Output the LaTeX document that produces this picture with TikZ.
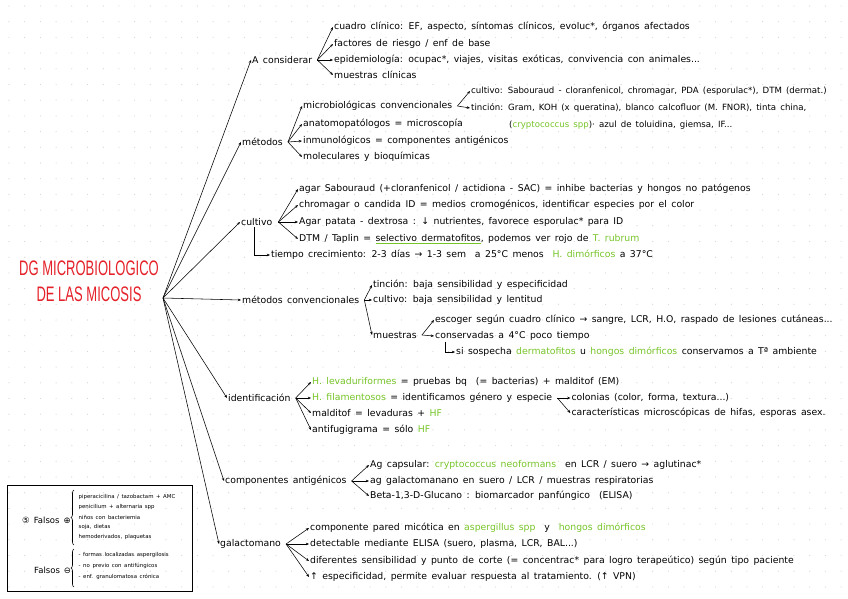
\documentclass[tikz,border=0pt]{standalone}
\usepackage{fontspec}
\setmainfont[WordSpace=1.5]{DejaVu Sans}
\newfontfamily\titlefont[FakeStretch=0.62]{Liberation Sans}
\usepackage{xcolor}
\usepackage{tikz}
\usetikzlibrary{arrows.meta,positioning,calc,decorations.pathreplacing}
\definecolor{titlered}{RGB}{228,32,40}
\definecolor{hgreen}{RGB}{118,196,40}
\definecolor{dotgray}{RGB}{212,212,212}
\newcommand{\gr}[1]{\textcolor{hgreen}{#1}}
\newcommand{\gul}[1]{{\color{hgreen}\underline{\textcolor{black}{#1}}}}

\begin{document}
\begin{tikzpicture}[
  x=1pt, y=-1pt,
  txt/.style={anchor=west, inner sep=1pt, font=\fontsize{9.3}{11}\selectfont},
  stxt/.style={txt, font=\fontsize{8.6}{10}\selectfont},
  tiny/.style={anchor=west, inner sep=0.5pt, font=\fontsize{5.4}{6}\selectfont},
  arrow/.style={-{Stealth[length=3.2pt,width=2.6pt]}, line width=0.55pt},
  brace/.style={decorate, decoration={brace, amplitude=3pt}, line width=0.6pt}
]
\useasboundingbox (0,0) rectangle (848,599);
% dotted paper
\foreach \i in {0,...,53}
  \foreach \j in {0,...,37}
    \fill[dotgray] (9+\i*15.7, 6+\j*15.7) circle (0.6);

% root
\node[align=center, text=titlered, font=\titlefont\fontsize{21}{26}\selectfont] (title) at (89,281) {DG MICROBIOLOGICO\\DE LAS MICOSIS};
\coordinate (hub) at (163,298);

% first level
\node[txt] (cons) at (251,60) {A considerar};
\node[txt] (met) at (241,142) {métodos};
\node[txt] (cult) at (240,222) {cultivo};
\node[txt] (mconv) at (241,300) {métodos convencionales};
\node[txt] (ident) at (227,398) {identificación};
\node[txt] (comp) at (224,481) {componentes antigénicos};
\node[txt] (galac) at (219,544) {galactomano};
\foreach \n in {cons,met,cult,mconv,ident,comp,galac}
  \draw[arrow] (hub) -- (\n.west);

% A considerar
\coordinate (fc) at ([xshift=4pt]cons.east);
\node[txt] (c1) at (333,27) {cuadro clínico: EF, aspecto, síntomas clínicos, evoluc*, órganos afectados};
\node[txt] (c2) at (333,44) {factores de riesgo / enf de base};
\node[txt] (c3) at (333,60) {epidemiología: ocupac*, viajes, visitas exóticas, convivencia con animales...};
\node[txt] (c4) at (333,75) {muestras clínicas};
\foreach \n in {c1,c2,c3,c4}
  \draw[arrow] (fc) -- (\n.west);

% métodos
\coordinate (fm) at ([xshift=4pt]met.east);
\node[txt] (m1) at (302,106) {microbiológicas convencionales};
\node[txt] (m2) at (302,124) {anatomopatólogos = microscopía};
\node[txt] (m3) at (302,141) {inmunológicos = componentes antigénicos};
\node[txt] (m4) at (302,157) {moleculares y bioquímicas};
\foreach \n in {m1,m2,m3,m4}
  \draw[arrow] (fm) -- (\n.west);
\coordinate (fmb) at ([xshift=4pt]m1.east);
\node[stxt] (mb1) at (470,91) {cultivo: Sabouraud - cloranfenicol, chromagar, PDA (esporulac*), DTM (dermat.)};
\node[stxt] (mb2) at (470,108) {tinción: Gram, KOH (x queratina), blanco calcofluor (M. FNOR), tinta china,};
\node[stxt] (mb3) at (508,125) {(\gr{cryptococcus spp})· azul de toluidina, giemsa, IF...};
\foreach \n in {mb1,mb2}
  \draw[arrow] (fmb) -- (\n.west);

% cultivo
\coordinate (fcu) at ([xshift=5pt]cult.east);
\node[txt] (cu1) at (298,189) {agar Sabouraud (+cloranfenicol / actidiona - SAC) = inhibe bacterias y hongos no patógenos};
\node[txt] (cu2) at (298,205) {chromagar o candida ID = medios cromogénicos, identificar especies por el color};
\node[txt] (cu3) at (298,222) {Agar patata - dextrosa : ↓ nutrientes, favorece esporulac* para ID};
\node[txt] (cu4) at (298,239) {DTM / Taplin = \gul{selectivo dermatofitos}, podemos ver rojo de \gr{T. rubrum}};
\foreach \n in {cu1,cu2,cu3,cu4}
  \draw[arrow] (fcu) -- (\n.west);
\node[txt] (tcre) at (270,255) {tiempo crecimiento: 2-3 días → 1-3 sem \ a 25°C menos \ \gr{H. dimórficos} a 37°C};
\draw[arrow] ([xshift=-2pt]cult.south) |- (tcre.west);

% métodos convencionales
\coordinate (fmc) at ([xshift=4pt]mconv.east);
\node[txt] (mc1) at (372,285) {tinción: baja sensibilidad y especificidad};
\node[txt] (mc2) at (372,300) {cultivo: baja sensibilidad y lentitud};
\node[txt] (mues) at (372,335) {muestras};
\foreach \n in {mc1,mc2,mues}
  \draw[arrow] (fmc) -- (\n.west);
\coordinate (fmu) at ([xshift=4pt]mues.east);
\node[txt] (mu1) at (434,320) {escoger según cuadro clínico → sangre, LCR, H.O, raspado de lesiones cutáneas...};
\node[txt] (mu2) at (434,336) {conservadas a 4°C poco tiempo};
\foreach \n in {mu1,mu2}
  \draw[arrow] (fmu) -- (\n.west);
\node[txt] (sisos) at (455,352) {si sospecha \gr{dermatofitos} u \gr{hongos dimórficos} conservamos a Tª ambiente};
\draw[arrow] ([xshift=11pt]mu2.south west) |- (sisos.west);

% identificación
\coordinate (fid) at ([xshift=4pt]ident.east);
\node[txt] (id1) at (311,382) {\gr{H. levaduriformes} = pruebas bq \ (= bacterias) + malditof (EM)};
\node[txt] (id2) at (311,398) {\gr{H. filamentosos} = identificamos género y especie};
\node[txt] (id3) at (311,413) {malditof = levaduras + \gr{HF}};
\node[txt] (id4) at (311,430) {antifugigrama = sólo \gr{HF}};
\foreach \n in {id1,id2,id3,id4}
  \draw[arrow] (fid) -- (\n.west);
\coordinate (ffi) at ([xshift=4pt]id2.east);
\node[txt] (fi1) at ([xshift=13pt]ffi) {colonias (color, forma, textura...)};
\node[txt] (fi2) at ([xshift=13pt,yshift=-15pt]ffi) {características microscópicas de hifas, esporas asex.};
\foreach \n in {fi1,fi2}
  \draw[arrow] (ffi) -- (\n.west);

% componentes antigénicos
\coordinate (fco) at ([xshift=4pt]comp.east);
\node[txt] (co1) at (369,465) {Ag capsular: \gr{cryptococcus neoformans} \ en LCR / suero → aglutinac*};
\node[txt] (co2) at (369,481) {ag galactomanano en suero / LCR / muestras respiratorias};
\node[txt] (co3) at (369,496) {Beta-1,3-D-Glucano : biomarcador panfúngico \ (ELISA)};
\foreach \n in {co1,co2,co3}
  \draw[arrow] (fco) -- (\n.west);

% galactomano
\coordinate (fga) at ([xshift=4pt]galac.east);
\node[txt] (ga1) at (309,528) {componente pared micótica en \gr{aspergillus spp} \ y \ \gr{hongos dimórficos}};
\node[txt] (ga2) at (309,544) {detectable mediante ELISA (suero, plasma, LCR, BAL...)};
\node[txt] (ga3) at (309,561) {diferentes sensibilidad y punto de corte (= concentrac* para logro terapeútico) según tipo paciente};
\node[txt] (ga4) at (309,577) {↑ especificidad, permite evaluar respuesta al tratamiento. (↑ VPN)};
\foreach \n in {ga1,ga2,ga3,ga4}
  \draw[arrow] (fga) -- (\n.west);

% falsos positivos / negativos
\node[draw, line width=0.8pt, minimum width=185pt, minimum height=106pt, anchor=north west, inner sep=0pt] (legend) at (7,485) {};
\node[anchor=west, inner sep=1pt, font=\fontsize{8.5}{9}\selectfont] (fpos) at (21,520) {⑤ Falsos ⊕};
\node[tiny] (p1) at (78,497) {piperacicilina / tazobactam + AMC};
\node[tiny] (p2) at (78,507) {penicilium + alternaria spp};
\node[tiny] (p3) at (78,517) {niños con bacteriemia};
\node[tiny] (p4) at (78,527) {soja, dietas};
\node[tiny] (p5) at (78,537) {hemoderivados, plaquetas};
\draw[brace] (74,545) -- (74,490);
\node[anchor=west, inner sep=1pt, font=\fontsize{8.5}{9}\selectfont] (fneg) at (33,570) {Falsos ⊖};
\node[tiny] (n1) at (78,555) {- formas localizadas aspergilosis};
\node[tiny] (n2) at (78,566) {- no previo con antifúngicos};
\node[tiny] (n3) at (78,577) {- enf. granulomatosa crónica};
\draw[brace] (74,587) -- (74,549);
\end{tikzpicture}
\end{document}
